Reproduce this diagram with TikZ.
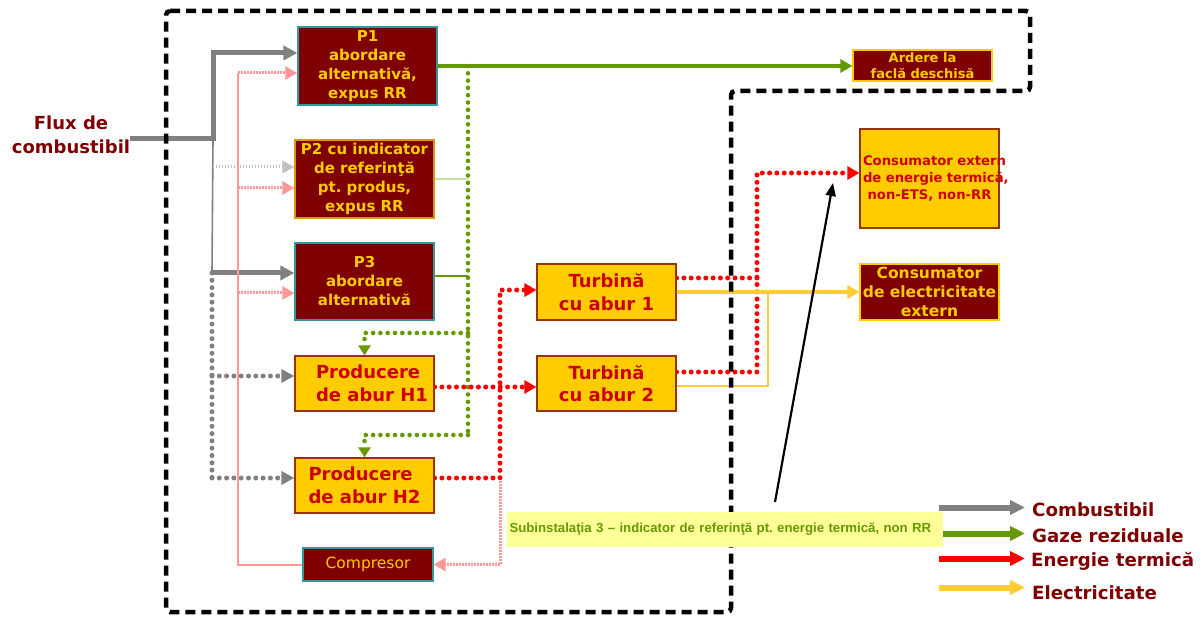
\documentclass[tikz,border=0pt]{standalone}
\usepackage{fontspec}
\setmainfont{DejaVu Sans}
\newfontfamily\labelfont{Liberation Sans}
\usetikzlibrary{arrows.meta}
\frenchspacing

\definecolor{maroonfill}{HTML}{7F0000}
\definecolor{gold}{HTML}{FFCC00}
\definecolor{redtext}{HTML}{CC0000}
\definecolor{tealline}{HTML}{31999B}
\definecolor{boxbrown}{HTML}{993300}
\definecolor{ptwoborder}{HTML}{D99A00}
\definecolor{fuelgray}{HTML}{808080}
\definecolor{fuellight}{HTML}{C0C0C0}
\definecolor{pinkline}{HTML}{FF9999}
\definecolor{gasgreen}{HTML}{669900}
\definecolor{palegreen}{HTML}{C4E6A0}
\definecolor{heatred}{HTML}{FF0000}
\definecolor{elecyellow}{HTML}{FFCC33}
\definecolor{labelfill}{HTML}{FFFF99}
\definecolor{darkred}{HTML}{800000}

\pgfdeclarelayer{lines}
\pgfdeclarelayer{frame}
\pgfsetlayers{lines,frame,main}

\tikzset{
  darkbox/.style={draw=tealline, fill=maroonfill, text=gold, line width=1.2pt,
    align=center, inner sep=1pt, font=\bfseries\fontsize{15}{19}\selectfont},
  sunbox/.style={draw=boxbrown, fill=gold, text=redtext, line width=1.2pt,
    align=center, inner sep=1pt, font=\bfseries\fontsize{18}{22.5}\selectfont},
  legtext/.style={anchor=base west, inner sep=0pt, text=darkred,
    font=\bfseries\fontsize{18.2}{22}\selectfont},
  dots/.style={line width=#1, line cap=round, dash pattern=on 0pt off 7.3pt},
  fine/.style={line width=#1, dash pattern=on 1.5pt off 1.5pt},
  fuel/.style={draw=fuelgray, line width=5pt, -{Triangle[length=14pt,width=14pt]}},
  fuelthin/.style={draw=fuelgray, line width=1.6pt},
  fuelfaint/.style={draw=fuellight, fine=3pt, -{Triangle[length=12pt,width=12pt]}},
  fueldotline/.style={draw=fuelgray, dots=5pt},
  fueldot/.style={fueldotline, -{Triangle[length=13pt,width=13pt]}},
  pinksolid/.style={draw=pinkline, line width=2pt},
  pinkdot/.style={draw=pinkline, fine=3pt, -{Triangle[length=12pt,width=13pt]}},
  gas/.style={draw=gasgreen, line width=4.5pt, -{Triangle[length=12pt,width=13pt]}},
  gasthin/.style={draw=gasgreen, line width=1.6pt},
  gaspale/.style={draw=palegreen, line width=1.2pt},
  gasdotline/.style={draw=gasgreen, dots=4.6pt},
  gasdot/.style={gasdotline, -{Triangle[length=10pt,width=12pt]}},
  heatline/.style={draw=heatred, dots=5pt},
  heat/.style={heatline, -{Triangle[length=12pt,width=13pt]}},
  elec/.style={draw=elecyellow, line width=4.5pt, -{Triangle[length=12pt,width=13pt]}},
  electhin/.style={draw=elecyellow, line width=2pt},
  pointer/.style={draw=black, line width=2.2pt, -{Triangle[length=13pt,width=10pt]}},
  legarrow/.style={line width=6pt, -{Triangle[length=15pt,width=14pt]}},
  boundary/.style={draw=black, line width=4.5pt, dash pattern=on 10pt off 6pt,
    rounded corners=4pt},
}

\begin{document}
\begin{tikzpicture}[x=1pt, y=-1pt]
\useasboundingbox (0,0) rectangle (1204,617);

% process boxes
\node[darkbox, minimum width=139pt, minimum height=78pt] (p1) at (367.5,66)
  {P1\\abordare\\alternativă,\\expus RR};
\node[darkbox, draw=ptwoborder, minimum width=139pt, minimum height=78pt] (p2) at (364.5,179)
  {P2 cu indicator\\de referinţă\\pt. produs,\\expus RR};
\node[darkbox, minimum width=139pt, minimum height=77pt] (p3) at (364.5,281.5)
  {P3\\abordare\\alternativă};
\node[sunbox, align=left, minimum width=139pt, minimum height=55pt] (h1) at (364.5,383.5)
  {\hspace*{15pt}Producere\\\hspace*{15pt}de abur H1};
\node[sunbox, align=left, minimum width=139pt, minimum height=55pt] (h2) at (364.5,485.5)
  {Producere\\de abur H2};
\node[darkbox, font=\fontsize{15.5}{19}\selectfont, minimum width=130pt, minimum height=33pt] (comp) at (368,564.5)
  {Compresor};
\node[sunbox, minimum width=139pt, minimum height=56pt] (t1) at (606.5,292)
  {Turbină\\cu abur 1};
\node[sunbox, minimum width=139pt, minimum height=55pt] (t2) at (606.5,383.5)
  {Turbină\\cu abur 2};
\node[darkbox, draw=gold, inner sep=0pt, font=\bfseries\fontsize{13}{16}\selectfont,
  minimum width=139pt, minimum height=31pt] (flare) at (922.5,65.5)
  {Ardere la\\faclă deschisă};
\node[sunbox, font=\bfseries\fontsize{13.2}{16.7}\selectfont, text width=133pt, inner xsep=3pt,
  minimum height=99pt] (heatuser) at (929.5,178.5)
  {\mbox{Consumator extern}\\\mbox{de energie termică,}\\non-ETS, non-RR};
\node[darkbox, draw=gold, inner sep=0pt, font=\bfseries\fontsize{15.5}{19.3}\selectfont,
  minimum width=139pt, minimum height=56pt] (elecuser) at (929.5,292)
  {Consumator\\de electricitate\\extern};

\node[inner sep=0pt, align=center, text=darkred, font=\bfseries\fontsize{18}{23.5}\selectfont] (flux) at (71,135)
  {Flux de\\combustibil};

\node[fill=labelfill, text=gasgreen, font=\labelfont\bfseries\fontsize{13.2}{15}\selectfont,
  text width=431pt, inner xsep=2.5pt, minimum height=35pt, align=left] (sub) at (725,529.5)
  {Subinstalaţia 3 – indicator de referinţă pt. energie termică, non RR};

% legend
\node[legtext] (lgfuel) at (1032,516.5) {Combustibil};
\node[legtext] (lggas) at (1032,542.5) {Gaze reziduale};
\node[legtext] (lgheat) at (1031,566.5) {Energie termică};
\node[legtext] (lgelec) at (1032,599) {Electricitate};

% junction points
\coordinate (fj) at (213,139);
\coordinate (gj) at (212,273);
\coordinate (gtwo) at (212.6,167);
\coordinate (gone) at (212,376);
\coordinate (gb) at (212,478);
\coordinate (pka) at (238,73);
\coordinate (pkb) at (238,188);
\coordinate (pkc) at (238,293);
\coordinate (gv) at (468,66);
\coordinate (gva) at (468,333);
\coordinate (gvb) at (468,435);
\coordinate (rj) at (500,478);
\coordinate (rt) at (500,290);
\coordinate (rh) at (757,278);
\coordinate (rl) at (757,372);
\coordinate (rc) at (757,173);
\coordinate (ey) at (768,386);
\coordinate (pa) at (775,502);
\coordinate (pb) at (833,183);
\coordinate (la) at (939,507.5);
\coordinate (lb) at (939,533.5);
\coordinate (lc) at (939,558.5);
\coordinate (ld) at (939,587.5);

\begin{pgfonlayer}{lines}
  % fuel
  \draw[fuel] (flux.east |- fj) -- (fj) |- ([yshift=13pt]p1.west);
  \draw[fuelthin] (fj) -- (gj);
  \draw[fuel] (gj) -- (gj -| p3.west);
  \draw[fuelfaint] (gtwo) -- (gtwo -| p2.west);
  \draw[fueldotline] (gj) -- (gb);
  \draw[fueldot] (gone) -- (gone -| h1.west);
  \draw[fueldot] (gb) -- (gb -| h2.west);
  % compressed air
  \draw[pinksolid] (pka) -- (pka |- comp.west) -- (comp.west);
  \draw[pinkdot] (pka) -- (pka -| p1.west);
  \draw[pinkdot] (pkb) -- (pkb -| p2.west);
  \draw[pinkdot] (pkc) -- (pkc -| p3.west);
  \draw[pinkdot] (rj) |- (comp.east);
  % waste gases
  \draw[gas] (p1.east) -- (p1.east -| flare.west);
  \draw[gasdotline] (gv) -- (gvb);
  \draw[gaspale] (p2.east) -- (p2.east -| gv);
  \draw[gasthin] ([yshift=5.5pt]p3.east) -- ([yshift=5.5pt]p3.east -| gv);
  \draw[gasdot] (gva) -| (h1.north);
  \draw[gasdot] (gvb) -| (h2.north);
  % heat
  \draw[heat] ([yshift=-3.5pt]h1.east) -- ([yshift=-3.5pt]t2.west);
  \draw[heat] ([yshift=7.5pt]h2.east) -- (rj) -- (rt) -- (rt -| t1.west);
  \draw[heatline] (rh -| t1.east) -- (rh);
  \draw[heat] (rl -| t2.east) -- (rl) -- (rc) -- (rc -| heatuser.west);
  % electricity
  \draw[elec] (t1.east) -- (t1.east -| elecuser.west);
  \draw[electhin] (ey -| t2.east) -- (ey) -- (ey |- t1.east);
  % pointer to the external heat consumer
  \draw[pointer] (pa) -- (pb);
  % legend arrows
  \draw[legarrow, fuelgray] (la) -- ([xshift=-7pt]la -| lgfuel.west);
  \draw[legarrow, gasgreen] (lb) -- ([xshift=-7pt]lb -| lggas.west);
  \draw[legarrow, heatred] (lc) -- ([xshift=-6pt]lc -| lgheat.west);
  \draw[legarrow, elecyellow] (ld) -- ([xshift=-7pt]ld -| lgelec.west);
\end{pgfonlayer}

\begin{pgfonlayer}{frame}
  \draw[boundary] (166,11) -- (1030,11) -- (1030,91) -- (731,91) -- (731,612) -- (166,612) -- cycle;
\end{pgfonlayer}
\end{tikzpicture}
\end{document}
